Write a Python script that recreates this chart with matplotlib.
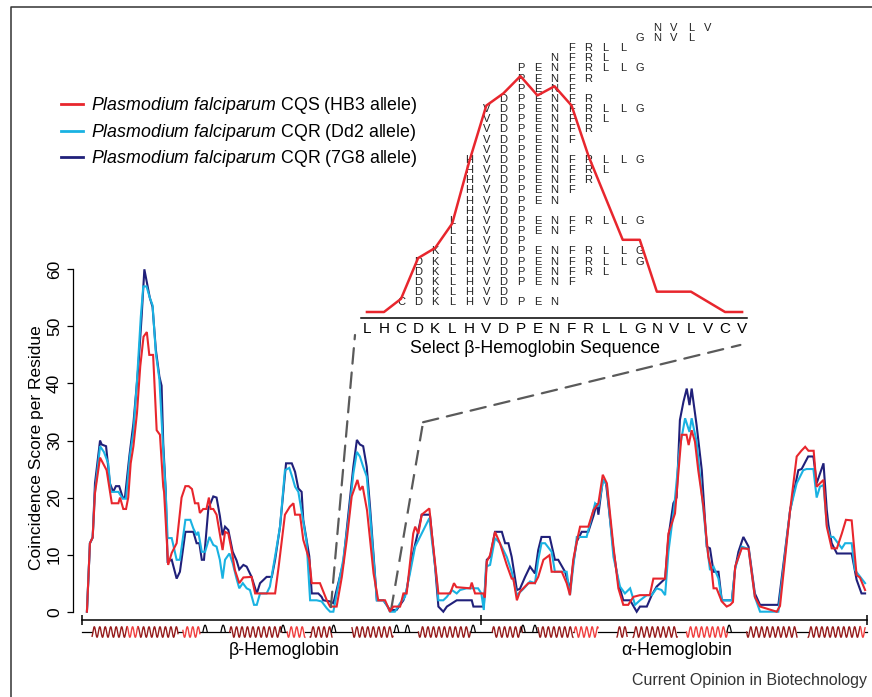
import numpy as np
import matplotlib
matplotlib.use("Agg")
import matplotlib.pyplot as plt
from matplotlib.lines import Line2D
from matplotlib.patches import ConnectionPatch

plt.rcParams['font.family'] = ['Liberation Sans', 'DejaVu Sans']
plt.rcParams['mathtext.fontset'] = 'custom'
plt.rcParams['mathtext.it'] = 'Liberation Sans:italic'
plt.rcParams['mathtext.rm'] = 'Liberation Sans'

# ---- coincidence scores (position along beta+alpha chain, score) ----
cqs_x = [1.8, 2.9, 3.9, 4.75, 6.6, 9.0, 10.9, 13.3, 13.9, 15.1, 16.1, 16.9, 17.8, 18.8, 20.1, 21.3, 22.5, 23.7,
         24.6, 26.0, 27.3, 28.5, 29.7, 30.0, 31.5, 32.8, 34.6, 36.4, 37.8, 39.0, 40.2, 41.3, 42.5, 43.1, 44.3,
         45.5, 46.4, 47.0, 48.0, 49.2, 50.6, 51.4, 52.3, 53.5, 54.7, 55.9, 57.5, 59.0, 62.0, 63.3, 70.6, 71.9,
         74.2, 76.0, 77.3, 77.9, 79.7, 80.9, 83.1, 84.0, 87.0, 89.5, 90.7, 93.1, 95.0, 96.8, 98.6, 100.7, 101.6,
         102.6, 104.2, 106.6, 108.3, 110.8, 112.6, 113.8, 116.3, 117.5, 118.7, 121.1, 121.8, 123.0, 124.2,
         127.0, 127.9, 130.3, 134.6, 136.0, 136.9, 141.9, 142.5, 143.7, 146.7, 147.3, 148.0, 149.2, 151.0,
         152.8, 155.3, 157.1, 157.7, 159.0, 160.1, 163.2, 165.6, 166.8, 168.7, 170.9, 171.7, 175.4, 177.2,
         178.4, 179.6, 180.9, 182.1, 185.1, 187.0, 188.8, 190.4, 191.9, 194.3, 196.1, 197.9, 199.7, 201.6,
         204.0, 207.6, 208.9, 213.2, 214.4, 216.8, 217.4, 219.2, 221.0, 221.8, 222.9, 224.1, 225.3, 227.2,
         229.0, 230.2, 230.9, 232.0, 233.9, 235.7, 237.0, 238.0, 238.8, 241.2, 243.7, 246.0, 247.9, 254.0,
         255.2, 258.9, 261.3, 263.0, 264.4, 265.6, 267.5, 268.6, 271.1, 272.3, 274.1, 276.0, 277.8, 279.3,
         281.4, 283.2, 284.4, 286.3]
cqs_y = [0, 12, 13, 20.8, 27, 24.8, 19, 19, 20, 18, 18, 20, 26, 29, 34.8, 43, 48.2, 49,
         45, 45, 31.8, 31, 21.9, 21, 8.2, 10.3, 12, 20, 22, 22, 21.5, 19, 19, 17.3, 18,
         18, 20, 18, 18, 17, 13.1, 10.8, 14, 13.7, 10.8, 7.3, 5, 6, 6.1, 3.2, 3.2, 7.9,
         17, 18.4, 19, 17, 17, 12.6, 9.1, 5, 5, 2, 0.9, 0.9, 6.1, 12.6, 20.2, 23.1, 21.3,
         22, 17.8, 6.7, 2, 2, 0, 0.9, 0.9, 3.2, 3.2, 13.7, 14.9, 13.7, 17,
         18.1, 13.7, 3.2, 3.2, 5, 4.3, 4.1, 5.1, 3.2, 3.2, 2.5, 8.8, 9.9, 14,
         12, 8.2, 5.8, 5.8, 2, 3.5, 5, 5, 6.1, 9.1, 9.9, 7, 7, 5,
         2.9, 9.1, 12.3, 14.9, 14.9, 17.8, 19, 24, 22.5, 11.4, 4.1, 1.2, 1.2, 2.6,
         2.9, 2.9, 5.8, 5.8, 13.7, 17.2, 20.7, 31, 31, 29.2, 31.8, 29.8, 24.8, 18.4,
         9.6, 7.3, 4.1, 4.1, 1.8, 0.9, 1.2, 1.7, 7.9, 11.1, 11, 2.6, 0.9, 0,
         1, 17.8, 27.2, 28.2, 28.9, 28.2, 28.2, 21.9, 23.1, 14.9, 11.1, 11.1, 13.7, 16.1,
         16, 6.4, 6, 3.8]

dd2_x = [1.8, 2.9, 3.9, 4.75, 6.6, 8.0, 9.6, 10.5, 13.3, 14.9, 16.1, 17.5, 18.8, 20.0, 21.5, 22.4, 23.6, 24.8,
         25.8, 27.0, 28.3, 29.7, 30.6, 31.3, 32.8, 34.6, 35.8, 37.8, 39.6, 40.7, 41.9, 42.5, 43.8, 45.0, 46.6,
         48.0, 49.2, 50.4, 51.4, 52.3, 53.9, 55.1, 56.5, 57.5, 58.8, 60.2, 61.4, 62.9, 63.9, 65.1, 67.5, 68.7,
         70.6, 72.4, 74.2, 75.8, 77.0, 77.9, 79.1, 80.3, 82.1, 83.4, 85.8, 87.6, 89.5, 90.7, 91.9, 95.5, 97.4,
         99.2, 100.5, 101.6, 102.8, 104.1, 105.3, 107.8, 110.2, 111.4, 112.6, 114.4, 116.3, 118.1, 119.9,
         121.8, 124.2, 127.0, 127.9, 129.7, 130.3, 132.1, 133.4, 135.2, 137.0, 138.2, 140.6, 144.8, 146.0,
         146.9, 147.7, 149.2, 151.0, 152.8, 155.3, 157.1, 159.0, 161.4, 163.8, 165.6, 166.8, 168.0, 169.3,
         171.7, 172.9, 177.2, 178.4, 179.6, 180.9, 184.5, 186.4, 187.6, 188.8, 190.6, 191.9, 194.3, 196.7,
         198.5, 200.4, 202.2, 204.0, 206.5, 208.3, 210.1, 211.9, 213.2, 214.4, 216.5, 218.6, 220.5, 222.1,
         222.9, 224.7, 226.6, 228.4, 229.6, 230.9, 232.7, 233.9, 237.6, 238.8, 241.2, 243.7, 246.0, 247.9,
         254.6, 258.9, 261.3, 263.7, 264.9, 267.4, 268.6, 269.8, 271.1, 272.3, 273.5, 274.7, 277.8, 279.0,
         281.4, 282.6, 285.0, 286.3]
dd2_y = [0, 12, 13, 21, 29, 28, 26, 21, 21, 19.8, 19.8, 27.2, 31.5, 39.7, 51.7, 57, 57, 55,
         53.7, 45.3, 40.7, 28.3, 21, 12.9, 12.9, 9.1, 9.1, 16.1, 16.1, 14.6, 13.4, 14, 10.5, 10.5, 13.1,
         11.7, 11.4, 9.1, 5.8, 9.1, 10.2, 8.5, 5.8, 4.1, 5, 4.1, 3.8, 1.2, 1.2, 3.2, 3.2, 4.4,
         9.7, 14.9, 24.8, 25.2, 23.4, 21.9, 21, 17.5, 12.3, 2, 2, 1.8, 0.6, 0, 0, 9.1, 16.1,
         24.2, 28, 27.2, 25.4, 23.7, 17.2, 2, 2, 1.2, 0, 0, 1.5, 2.6, 6.7,
         11.4, 13.7, 16.4, 12.6, 5.6, 2, 2, 2.6, 3.8, 3.2, 3.8, 4.1, 4.1, 3.2,
         0.3, 7.9, 8.2, 12.9, 12, 9.6, 7, 2.9, 4, 5.3, 5, 9.1, 12, 12,
         10.5, 7, 7, 2.9, 7.9, 13.1, 13.1, 16.7, 19, 18.4, 23.1, 22.2, 9.6, 4.4,
         3.2, 4.1, 1.2, 2, 2.9, 2.9, 4.1, 3.8, 2.9, 10.5, 18.3, 28.9, 33.9, 31.5,
         33.9, 29.8, 20.7, 12, 7.3, 7.9, 5.8, 2, 2, 7.6, 11.4, 11, 2.6, 0,
         0, 17.8, 22.5, 24.8, 25, 25, 20, 21.9, 22.2, 15.2, 13.1, 13.1, 11.1, 12,
         12, 7.3, 5.8, 5]

g8_x = [1.8, 2.9, 3.9, 4.75, 6.6, 7.2, 8.8, 10.2, 11.4, 12.4, 13.6, 14.9, 15.7, 17.3, 18.8, 20.6, 21.8, 22.8,
        24.0, 24.8, 25.8, 27.0, 28.3, 29.1, 29.7, 30.6, 31.3, 32.8, 34.6, 35.8, 37.8, 40.7, 41.9, 42.9, 43.8,
        44.6, 46.2, 48.0, 49.2, 50.4, 51.4, 52.3, 53.5, 55.1, 56.5, 57.5, 59.0, 60.2, 62.0, 63.9, 65.1, 67.5,
        69.4, 70.6, 72.4, 74.6, 76.7, 77.9, 79.1, 80.3, 80.9, 83.1, 84.0, 86.4, 87.6, 88.2, 90.7, 91.9, 95.5,
        97.4, 99.2, 100.5, 101.6, 102.8, 104.1, 105.3, 107.8, 110.2, 112.6, 115.0, 117.5, 118.7, 120.5,
        123.0, 124.2, 127.2, 129.1, 130.3, 132.1, 133.4, 137.0, 142.5, 143.1, 146.9, 148.0, 149.2, 151.0,
        153.5, 154.7, 155.9, 157.1, 159.0, 160.1, 162.0, 163.8, 165.6, 166.8, 168.0, 171.0, 172.9, 174.1,
        176.6, 177.8, 178.4, 179.6, 180.9, 182.7, 185.1, 187.0, 188.2, 188.8, 190.4, 191.6, 194.3, 196.1,
        197.9, 200.4, 202.8, 204.0, 206.5, 208.3, 210.1, 213.2, 214.4, 216.2, 217.4, 218.6, 219.9, 221.1,
        222.1, 222.9, 224.7, 226.6, 228.4, 229.6, 230.9, 232.7, 233.9, 237.6, 238.8, 240.0, 241.8, 243.7,
        246.0, 247.9, 254.6, 258.9, 261.9, 263.1, 265.5, 267.4, 268.6, 271.1, 272.3, 272.9, 274.1, 276.0,
        281.4, 283.2, 285.0, 286.3]
g8_y = [0, 12, 13, 22.5, 30, 29.3, 29, 22.5, 21, 22, 22, 20, 20, 27.2, 33, 43, 51.7, 60,
        57, 55, 53.4, 45.9, 41.2, 39.6, 29.5, 21.3, 8.8, 9.1, 5.8, 7, 14, 14, 12, 12, 9.1,
        9.1, 18.1, 20.2, 20, 16.8, 13.4, 14.9, 14.3, 10.5, 9, 7.4, 8.2, 7.9, 6.1, 3.2, 5, 6.1,
        6.1, 9.1, 14.9, 26, 26, 24.5, 21.6, 21, 16.1, 9.7, 3.2, 3.2, 2.6, 2, 1.8, 1.5, 8.5,
        17.2, 25.4, 30.1, 29.3, 29, 25.4, 18.4, 2, 2, 0.3, 0.3, 2, 3.8, 9.1,
        14.3, 17, 17, 7.9, 0.9, 0, 0.9, 2, 2, 0.9, 0.9, 9.1, 9.6, 14,
        14, 12, 12, 9.6, 3.8, 4, 6.1, 7.9, 6.7, 10.8, 13.1, 13.1, 9.1, 9.1,
        7, 5, 3.8, 8.5, 12.3, 14, 14, 16.8, 19, 17, 23.1, 22.5, 10.8, 5,
        2, 2, 0, 0.9, 0.9, 2.9, 4.4, 5.8, 13.1, 19, 20, 33.6, 36.8, 39.1,
        36.2, 39.1, 32.7, 24.8, 11.4, 11.1, 7, 7, 2, 2, 7.6, 10.5, 13.1, 11.4,
        3.2, 1.2, 1.2, 17.8, 24.8, 25, 27.2, 27.2, 22.5, 26, 17.8, 15.2, 12, 10.2,
        10.2, 5.6, 3.2, 3.2]

series_names = ["CQS (HB3 allele)", "CQR (Dd2 allele)", "CQR (7G8 allele)"]
series_colors = ["#e8262d", "#19b2e2", "#20207a"]

# chain boundaries
beta_len = 146
alpha_len = 141

# secondary structure (positions along concatenated chains)
helix_dark = [(3.7, 16.5), (20.5, 35.1), (54, 73), (83.4, 91.4), (98.7, 113.7), (123, 142),
              (150, 161), (166.7, 179.5), (195.6, 199.3), (201.5, 217.6), (243, 261.4), (265.5, 284.5)]
helix_light = [(16.5, 20.5), (36.9, 43.1), (75, 81.5), (180, 188.7), (221, 236), (284.5, 286.3)]
turns = [45, 51.6, 73.5, 92, 115, 119, 143, 161.2, 165.6, 236.6]

# ---- inset: peptides over the selected beta-hemoglobin stretch (residues 91-113) ----
sel_seq = list("LHCDKLHVDPENFRLLGNVLVCV")
pep_start = [2, 3, 3, 3, 3, 4, 5, 5, 5, 6, 6, 6, 6, 6, 6, 7, 7, 7, 7, 7, 8, 9, 9, 9, 11, 12, 16, 17]
pep_end = [11, 8, 12, 14, 16, 16, 9, 12, 16, 9, 11, 12, 13, 14, 16, 11, 12, 13, 14, 16, 13, 12, 13, 16,
           14, 15, 19, 20]
coverage = [0, 0, 1.3, 5.3, 6.3, 8.7, 14.8, 20.3, 21.5, 23.2, 21.3, 22.2, 20.3, 15.3, 11.2, 7.1, 7.1,
            2.0, 2.0, 2.0, 1.0, 0, 0]

W, H = 872, 697
fig = plt.figure(figsize=(W / 100, H / 100), dpi=100)


def box(left, top, right, bottom):
    return [left / W, 1 - bottom / H, (right - left) / W, (bottom - top) / H]


ax = fig.add_axes(box(73, 262, 870, 665))
ax.patch.set_visible(False)
ax.set_xlim(-3.29, 288.1)
ax.set_ylim(-9.34, 61.28)

for xs, ys, c in [(g8_x, g8_y, series_colors[2]), (dd2_x, dd2_y, series_colors[1]),
                  (cqs_x, cqs_y, series_colors[0])]:
    ax.plot(xs, ys, color=c, lw=1.5, solid_joinstyle='miter', zorder=3)

for s in ['top', 'right', 'bottom']:
    ax.spines[s].set_visible(False)
ax.spines['left'].set_bounds(0, 60)
ax.spines['left'].set_linewidth(0.9)
ax.set_yticks(range(0, 61, 10))
ax.set_xticks([])
ax.tick_params(axis='y', length=4, width=0.9, labelsize=12.5, pad=4)
for t in ax.get_yticklabels():
    t.set_rotation(90)
    t.set_va('center')

# chain axis bar
total = beta_len + alpha_len
bar_y = -1.45
ax.plot([0, total], [bar_y, bar_y], color='black', lw=1.1, clip_on=False)
ax.plot([0, beta_len, total], [bar_y] * 3, ls='none', marker='|', ms=7, mew=1.1, color='black',
        clip_on=False)

# secondary structure strip
base = -3.56
amp = 0.92
period = 2.0
segs = sorted(helix_dark + helix_light)
prev = 0
for s0, s1 in segs:
    if s0 > prev:
        ax.plot([prev, s0], [base, base], color='black', lw=0.9)
    prev = max(prev, s1)
ax.plot([prev, total], [base, base], color='black', lw=0.9)
for segs_, col in [(helix_dark, '#961c1c'), (helix_light, '#f04040')]:
    for s0, s1 in segs_:
        xx = np.linspace(s0, s1, int((s1 - s0) * 20) + 2)
        ax.plot(xx, base + amp * np.sin(2 * np.pi * xx / period), color=col, lw=1.0)
for p in turns:
    xx = np.linspace(p - 0.8, p + 0.8, 20)
    ax.plot(xx, base + 1.2 * np.sin(np.pi * (xx - p + 0.8) / 1.6), color='black', lw=0.9)

ax.text(beta_len / 2 + 1, -6.75, "β-Hemoglobin", ha='center', va='center', fontsize=12.8)
ax.text(beta_len + alpha_len / 2 + 1, -6.75, "α-Hemoglobin", ha='center', va='center', fontsize=12.8)

# legend
handles = [Line2D([], [], color=c, lw=2) for c in series_colors]
labels = [r"$\it{Plasmodium\ falciparum}$ " + n for n in series_names]
fig.legend(handles, labels, loc='upper left', bbox_to_anchor=(54 / W, 1 - 88 / H), frameon=False,
           fontsize=12.8, handlelength=1.25, handletextpad=0.45, labelspacing=0.32, borderaxespad=0)

fig.text(37 / W, 1 - 448 / H, "Coincidence Score per Residue", rotation=90, ha='center', va='center',
         fontsize=12.5)

# inset
ins = fig.add_axes(box(355, 10, 760, 318))
ins.patch.set_visible(False)
ins.set_xlim(-0.70, 23.05)
ins.set_ylim(-0.59, 29.7)
for s in ['top', 'right', 'left']:
    ins.spines[s].set_visible(False)
ins.spines['bottom'].set_bounds(-0.35, 22.29)
ins.spines['bottom'].set_linewidth(1.1)
ins.set_yticks([])
ins.set_xticks(range(len(sel_seq)))
ins.set_xticklabels(sel_seq)
ins.tick_params(axis='x', length=0, pad=3, labelsize=11)
ins.set_xlabel("Select β-Hemoglobin Sequence", fontsize=12.8)
ins.xaxis.set_label_coords((535 - 355) / 405, -22 / 308)

for row, (a, b) in enumerate(zip(pep_start, pep_end), start=1):
    for col in range(a, b + 1):
        ins.text(col, row - 0.05, sel_seq[col], ha='center', va='center', fontsize=8, color='#222222',
                 zorder=2)
ins.plot(range(len(coverage)), coverage, color='#e8262d', lw=1.8, zorder=4)

# dashed connectors from the selected stretch to the inset
dash = dict(color='#5a5a5a', lw=1.6, ls=(0, (7, 4)))
sel_lo, sel_hi = 91, 113
bend = (124.7, 33.2)
con1 = ConnectionPatch(xyA=(sel_lo, 0.8), coordsA=ax.transData, xyB=(-0.7, -2.26), coordsB=ins.transData,
                       **dash)
fig.add_artist(con1)
ax.plot([sel_hi, bend[0]], [0.3, bend[1]], **dash)
con2 = ConnectionPatch(xyA=bend, coordsA=ax.transData, xyB=(21.9, -3.24), coordsB=ins.transData, **dash)
fig.add_artist(con2)

# panel frame (top and left)
fig.add_artist(Line2D([11 / W, 11 / W, 1], [0, 1 - 7 / H, 1 - 7 / H], color='#333333', lw=1.1))

fig.text(867 / W, 1 - 681 / H, "Current Opinion in Biotechnology", ha='right', va='center', fontsize=11.5,
         color='#333333')

fig.savefig("out.png", dpi=100)
